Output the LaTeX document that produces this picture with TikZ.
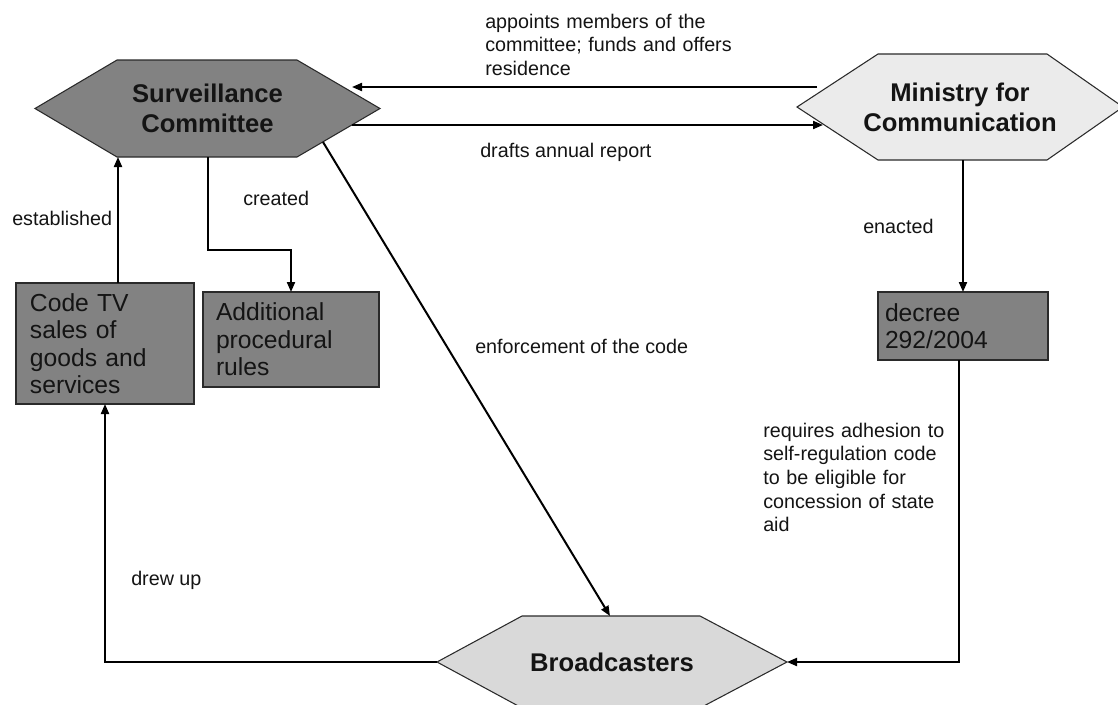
\documentclass[tikz,border=0pt]{standalone}
\usepackage{fontspec}
\setmainfont{Liberation Sans}
\usetikzlibrary{calc,backgrounds,arrows.meta}

\definecolor{txt}{HTML}{141414}
\definecolor{edge}{HTML}{2A2A2A}
\definecolor{darkfill}{HTML}{828282}
\definecolor{lightfill}{HTML}{EBEBEB}
\definecolor{midfill}{HTML}{D9D9D9}

\tikzset{
  conn/.style={line width=1.5pt, draw=black, -{Triangle[length=7.5pt,width=6pt]}},
  hexnode/.style={shape=rectangle, outer sep=0pt, inner sep=0pt, align=center,
    font=\fontsize{19.2pt}{22.5pt}\selectfont\bfseries, text=txt},
  hexline/.style={draw=edge, line width=0.8pt},
  boxnode/.style={draw=edge, line width=1.1pt, fill=darkfill, outer sep=0pt,
    inner ysep=0pt, align=left, font=\fontsize{18.5pt}{20.6pt}\selectfont, text=txt},
  lbl/.style={inner sep=0pt, anchor=base west, align=left,
    font=\fontsize{14.8pt}{17.8pt}\selectfont, text=txt},
}

\begin{document}
\begin{tikzpicture}[x=0.75pt, y=-0.75pt]
\useasboundingbox (0,0) rectangle (1118,704);
\clip (0,0) rectangle (1118,704);

% hexagonal actors (text boxes; outlines are drawn on the background layer)
\node[hexnode, minimum width=345*0.75pt, minimum height=97*0.75pt]
  (sc) at (207.5,108.5) {Surveillance\\Committee};
\node[hexnode, minimum width=326*0.75pt, minimum height=106*0.75pt]
  (mc) at (960,107) {Ministry for\\Communication};
\node[hexnode, minimum width=350*0.75pt, minimum height=92*0.75pt]
  (bc) at (612,662) {Broadcasters};

\begin{scope}[on background layer]
  \draw[hexline, fill=darkfill] (sc.west) -- ($(sc.north west)+(82,0)$)
    -- ($(sc.north east)+(-83,0)$) -- (sc.east) -- ($(sc.south east)+(-83,0)$)
    -- ($(sc.south west)+(82,0)$) -- cycle;
  \draw[hexline, fill=lightfill] (mc.west) -- ($(mc.north west)+(81,0)$)
    -- ($(mc.north east)+(-76,0)$) -- (mc.east) -- ($(mc.south east)+(-76,0)$)
    -- ($(mc.south west)+(81,0)$) -- cycle;
  \draw[hexline, fill=midfill] (bc.west) -- ($(bc.north west)+(85,0)$)
    -- ($(bc.north east)+(-87,0)$) -- (bc.east) -- ($(bc.south east)+(-87,0)$)
    -- ($(bc.south west)+(85,0)$) -- cycle;
\end{scope}

% rectangular documents
\node[boxnode, minimum width=178*0.75pt, minimum height=121*0.75pt,
  inner xsep=14*0.75pt, text width=150*0.75pt]
  (code) at (105,343.5) {Code TV\\sales of\\goods and\\services};
\node[boxnode, minimum width=176*0.75pt, minimum height=95*0.75pt,
  inner xsep=13*0.75pt, text width=150*0.75pt]
  (add) at (291,339.5) {Additional\\procedural\\rules};
\node[boxnode, minimum width=170*0.75pt, minimum height=68*0.75pt,
  inner xsep=7*0.75pt, text width=156*0.75pt]
  (dec) at (963,326) {decree\\292/2004};

% relations
\draw[conn] ($(mc.west)+(20,-20)$) -- ($(sc.east)+(-28,-21.5)$);
\draw[conn] ($(sc.east)+(-28,16.5)$) -- ($(mc.west)+(26,18)$);
\draw[conn] ($(code.north)+(13,0)$) coordinate (codetop) -- (codetop |- sc.south);
\draw[conn] (sc.south) -- ++(0,93) -| (add.north);
\draw[conn] (dec.north |- mc.south) -- (dec.north);
\draw[conn] ($(dec.south)+(-4,0)$) |- (bc.east);
\draw[conn] (bc.west) -| (code.south);
\draw[conn] ($(sc.east)+(-57,33.5)$) -- ($(bc.north)+(-2,0)$);

% relation labels
\node[lbl, text width=270*0.75pt] (l1) at (485,28)
  {appoints members of the\\committee; funds and offers\\residence};
\node[lbl] (l2) at (480,157) {drafts annual report};
\node[lbl] (l3) at (12,225) {established};
\node[lbl] (l4) at (243,205) {created};
\node[lbl] (l5) at (863,233) {enacted};
\node[lbl] (l6) at (475,353) {enforcement of the code};
\node[lbl] (l7) at (131,585) {drew up};
\node[lbl, text width=195*0.75pt] (l8) at (763,437)
  {requires adhesion to\\self-regulation code\\to be eligible for\\concession of state\\aid};
\end{tikzpicture}
\end{document}
